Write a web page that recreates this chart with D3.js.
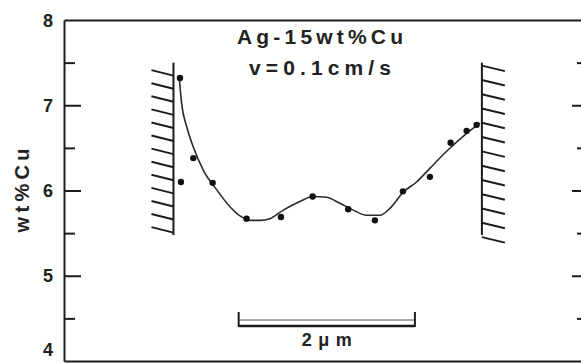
<!DOCTYPE html>
<html>
<head>
<meta charset="utf-8">
<script src="https://cdn.jsdelivr.net/npm/d3@7"></script>
<style>
  body { margin: 0; background: #fff; }
  svg { display: block; }
  text { font-family: "Liberation Sans", Arial, sans-serif; fill: #222; font-weight: bold; }
</style>
</head>
<body>
<script>
// Measured points: distance from left wall (um) and Cu content (wt%)
const pointX = [0.074, 0.085, 0.225, 0.445, 0.83, 1.22, 1.579, 1.983, 2.286, 2.604, 2.91, 3.145, 3.327, 3.44]
const pointY = [7.32, 6.10, 6.38, 6.09, 5.67, 5.69, 5.93, 5.78, 5.65, 5.99, 6.16, 6.56, 6.70, 6.77]

// Fitted curve drawn through the points
const curveX = [0.066, 0.093, 0.15, 0.225, 0.338, 0.49, 0.641, 0.774, 0.868, 0.981, 1.095, 1.246, 1.435,
  1.586, 1.738, 1.889, 2.04, 2.192, 2.343, 2.456, 2.607, 2.759, 2.91, 3.10, 3.327, 3.478]
const curveY = [7.32, 7.02, 6.75, 6.51, 6.24, 6.01, 5.81, 5.69, 5.65, 5.65, 5.67, 5.77, 5.87,
  5.93, 5.92, 5.85, 5.77, 5.71, 5.71, 5.79, 5.98, 6.10, 6.26, 6.46, 6.67, 6.79]

// Axis ticks
const majorTicks = [4, 5, 6, 7, 8]
const minorTicks = [4.5, 5.5, 6.5, 7.5]

// Walls (um) and their extent (wt%)
const walls = [0, 3.5]
const wallTop = 7.5
const wallBottom = 5.5

// Scale bar (um)
const scaleBar = [0.74, 2.74]

const titleLines = ['Ag-15wt%Cu', 'v=0.1cm/s']
const yLabel = 'wt%Cu'
const scaleLabel = '2\u03bcm'

const width = 581
const height = 363

const xScale = d3.scaleLinear().domain([-1.242, 4.636]).range([64, 582])
const yScale = d3.scaleLinear().domain([4, 8]).range([361, 20])

const svg = d3.select('body').append('svg')
  .attr('width', width)
  .attr('height', height)

const ink = '#1c1c1c'

function styleAxis (g) {
  g.selectAll('path, line').attr('stroke', ink).attr('stroke-width', 2)
}

// Left axis: ticks inward
svg.append('g')
  .attr('transform', `translate(${xScale.range()[0]},0)`)
  .call(d3.axisRight(yScale).tickValues(majorTicks.slice(1, -1)).tickSize(17).tickSizeOuter(0).tickFormat(''))
  .call(styleAxis)
svg.append('g')
  .attr('transform', `translate(${xScale.range()[0]},0)`)
  .call(d3.axisRight(yScale).tickValues(minorTicks).tickSize(11).tickSizeOuter(0).tickFormat(''))
  .call(styleAxis)
  .call(g => g.select('.domain').remove())

// Left labels (the bottom one is lifted so it stays inside the picture)
svg.append('g')
  .attr('transform', `translate(${xScale.range()[0]},0)`)
  .call(d3.axisLeft(yScale).tickValues(majorTicks).tickSize(0).tickPadding(11).tickFormat(d3.format('d')))
  .call(g => g.select('.domain').remove())
  .call(g => g.selectAll('text')
    .attr('font-size', 18)
    .attr('font-family', '"Liberation Sans", Arial, sans-serif')
    .attr('font-weight', 'bold')
    .attr('fill', '#222')
    .attr('dy', d => d === 4 ? '-0.3em' : '0.34em'))

// Right axis: ticks inward
svg.append('g')
  .attr('transform', `translate(${xScale.range()[1]},0)`)
  .call(d3.axisLeft(yScale).tickValues(majorTicks.slice(1, -1)).tickSize(10).tickSizeOuter(0).tickFormat(''))
  .call(styleAxis)
svg.append('g')
  .attr('transform', `translate(${xScale.range()[1]},0)`)
  .call(d3.axisLeft(yScale).tickValues(minorTicks).tickSize(5).tickSizeOuter(0).tickFormat(''))
  .call(styleAxis)
  .call(g => g.select('.domain').remove())

// Top and bottom frame lines
svg.append('g')
  .attr('transform', `translate(0,${yScale(8)})`)
  .call(d3.axisTop(xScale).tickValues([]).tickSizeOuter(0))
  .call(styleAxis)
svg.append('g')
  .attr('transform', `translate(0,${yScale(4)})`)
  .call(d3.axisBottom(xScale).tickValues([]).tickSizeOuter(0))
  .call(styleAxis)

// Y label
svg.append('text')
  .attr('transform', `translate(29,${yScale(6)}) rotate(-90)`)
  .attr('text-anchor', 'middle')
  .attr('font-size', 20)
  .attr('textLength', 84)
  .attr('lengthAdjust', 'spacing')
  .text(yLabel)

// Title
svg.selectAll('.title')
  .data(titleLines)
  .join('text')
  .attr('class', 'title')
  .attr('x', 320)
  .attr('y', (d, i) => 44 + i * 31)
  .attr('text-anchor', 'middle')
  .attr('font-size', 21)
  .attr('textLength', (d, i) => i === 0 ? 166 : 142)
  .attr('lengthAdjust', 'spacing')
  .text(d => d)

// Walls with hatching
const hatchCount = 13
walls.forEach((w, wi) => {
  const wx = xScale(w)
  const g = svg.append('g')
  g.append('line')
    .attr('x1', wx).attr('x2', wx)
    .attr('y1', yScale(wallTop)).attr('y2', yScale(wallBottom) + 2)
    .attr('stroke', ink).attr('stroke-width', 2)
  const y0 = yScale(wallTop) + (wi === 0 ? 7.5 : 3)
  const y1 = yScale(wallBottom) + (wi === 0 ? -6 : 4)
  const hy = d3.range(hatchCount).map(k => y0 + (y1 - y0) * k / (hatchCount - 1))
  g.selectAll('line.h')
    .data(hy)
    .join('line')
    .attr('class', 'h')
    .attr('x1', d => wi === 0 ? wx - 22 : wx)
    .attr('y1', d => d)
    .attr('x2', d => wi === 0 ? wx : wx + 23)
    .attr('y2', d => d + 5.5)
    .attr('stroke', ink).attr('stroke-width', 2)
})

// Curve
const line = d3.line()
  .x(d => xScale(d[0]))
  .y(d => yScale(d[1]))
  .curve(d3.curveMonotoneX)

svg.append('path')
  .datum(curveX.map((x, i) => [x, curveY[i]]))
  .attr('d', line)
  .attr('fill', 'none')
  .attr('stroke', '#2a2a2a')
  .attr('stroke-width', 1.6)

// Points
svg.append('g')
  .selectAll('circle')
  .data(pointX.map((x, i) => [x, pointY[i]]))
  .join('circle')
  .attr('cx', d => xScale(d[0]))
  .attr('cy', d => yScale(d[1]))
  .attr('r', 3.2)
  .attr('fill', '#111')

// Scale bar
const sb = svg.append('g')
const sx0 = xScale(scaleBar[0])
const sx1 = xScale(scaleBar[1])
sb.append('line')
  .attr('x1', sx0).attr('x2', sx1).attr('y1', 320).attr('y2', 320)
  .attr('stroke', '#555').attr('stroke-width', 1.2)
sb.append('line')
  .attr('x1', sx0).attr('x2', sx1).attr('y1', 326).attr('y2', 326)
  .attr('stroke', ink).attr('stroke-width', 2.6)
sb.selectAll('line.end')
  .data([sx0, sx1])
  .join('line')
  .attr('class', 'end')
  .attr('x1', d => d).attr('x2', d => d)
  .attr('y1', 312).attr('y2', 327)
  .attr('stroke', ink).attr('stroke-width', 2)
sb.append('text')
  .attr('x', (sx0 + sx1) / 2)
  .attr('y', 346)
  .attr('text-anchor', 'middle')
  .attr('font-size', 18)
  .attr('textLength', 50)
  .attr('lengthAdjust', 'spacing')
  .text(scaleLabel)
</script>
</body>
</html>
